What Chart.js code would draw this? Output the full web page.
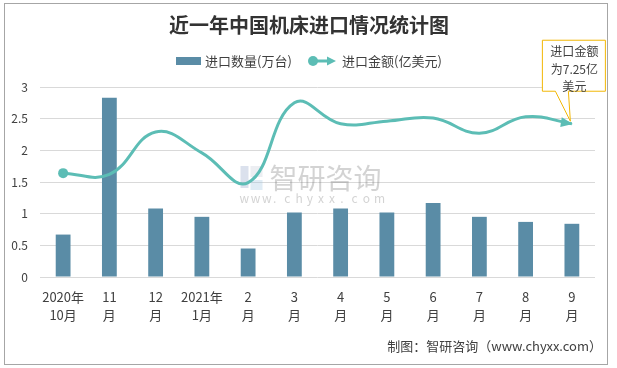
<!DOCTYPE html>
<html>
<head>
<meta charset="utf-8">
<script src="https://cdn.jsdelivr.net/npm/chart.js@4.4.1/dist/chart.umd.min.js"></script>
<style>
  html,body{margin:0;padding:0;background:#fff;}
  #wrap{width:617px;height:368px;position:relative;}
</style>
</head>
<body>
<div id="wrap"><canvas id="c" width="617" height="368"></canvas></div>
<script>
const categories = [["2020年","10月"],["11","月"],["12","月"],["2021年","1月"],["2","月"],["3","月"],["4","月"],["5","月"],["6","月"],["7","月"],["8","月"],["9","月"]];
const importQty = [0.67,2.83,1.08,0.95,0.45,1.02,1.08,1.02,1.17,0.95,0.87,0.84];
const importValue = [1.64,1.62,2.29,1.96,1.49,2.75,2.42,2.46,2.51,2.27,2.53,2.42];
const yTicks = [0,0.5,1,1.5,2,2.5,3];
const titleText = "近一年中国机床进口情况统计图";
const qtyLabel = "进口数量(万台)";
const valueLabel = "进口金额(亿美元)";
const calloutLines = ["进口金额","为7.25亿","美元"];
const sourceText = "制图：智研咨询（www.chyxx.com）";

const FONT = "'Noto Sans CJK SC','Noto Sans',sans-serif";
const BAR_COLOR = "#5A8CA6";
const LINE_COLOR = "#5CBDB5";
const TEXT_COLOR = "#404040";

const decor = {
  id: 'decor',
  beforeDatasetsDraw(chart) {
    const ctx = chart.ctx, a = chart.chartArea;
    const cx = (a.left + a.right) / 2, cy = (a.top + a.bottom) / 2;
    ctx.save();
    ctx.globalAlpha = 0.32;
    ctx.fillStyle = "#8FA3C8";
    ctx.fillRect(cx - 77, cy - 16, 8, 22);
    ctx.fillStyle = "#9FC3E0";
    ctx.fillRect(cx - 67, cy - 2, 12, 10);
    ctx.fillStyle = "#C4CBD8";
    ctx.fillRect(cx - 67, cy - 16, 12, 11);
    ctx.fillStyle = "#777";
    ctx.font = "28px " + FONT;
    ctx.textAlign = "left";
    ctx.textBaseline = "middle";
    ctx.fillText("智研咨询", cx - 48, cy - 4);
    ctx.font = "12px " + FONT;
    const w = "www.chyxx.com".split("");
    w.forEach((ch, i) => ctx.fillText(ch, cx - 78 + i * 11.2, cy + 16));
    ctx.restore();
  },
  afterDatasetsDraw(chart) {
    const ctx = chart.ctx;
    const meta = chart.getDatasetMeta(0);
    const pts = meta.data;
    const last = pts[pts.length - 1];
    const ang = Math.atan2(last.y - last.cp1y, last.x - last.cp1x);
    ctx.save();
    ctx.translate(last.x, last.y);
    ctx.rotate(ang);
    ctx.fillStyle = LINE_COLOR;
    ctx.beginPath();
    ctx.moveTo(1, 0);
    ctx.lineTo(-11, -5);
    ctx.lineTo(-11, 5);
    ctx.closePath();
    ctx.fill();
    ctx.restore();
    const tx = last.x - 2, ty = last.y - 3;
    const L = tx - 28, R = tx + 35, T = ty - 81, B = ty - 30;
    ctx.save();
    ctx.fillStyle = "#fff";
    ctx.strokeStyle = "#F2B705";
    ctx.lineWidth = 1;
    ctx.beginPath();
    ctx.moveTo(L + 0.5, T + 0.5);
    ctx.lineTo(R + 0.5, T + 0.5);
    ctx.lineTo(R + 0.5, B + 0.5);
    ctx.lineTo(tx - 2 + 0.5, B + 0.5);
    ctx.lineTo(tx + 0.5, ty + 0.5);
    ctx.lineTo(tx - 15 + 0.5, B + 0.5);
    ctx.lineTo(L + 0.5, B + 0.5);
    ctx.closePath();
    ctx.fill();
    ctx.stroke();
    ctx.fillStyle = TEXT_COLOR;
    ctx.font = "12px " + FONT;
    ctx.textAlign = "center";
    ctx.textBaseline = "middle";
    const mx = (L + R) / 2 + 1;
    calloutLines.forEach((s, i) => ctx.fillText(s, mx, T + 12 + i * 17.5));
    ctx.restore();
  },
  afterDraw(chart) {
    const ctx = chart.ctx;
    ctx.save();
    ctx.strokeStyle = "#A6A6A6";
    ctx.lineWidth = 1;
    ctx.strokeRect(4.5, 3.5, 603, 361);
    ctx.fillStyle = "#333";
    ctx.font = "bold 20px " + FONT;
    ctx.textAlign = "center";
    ctx.textBaseline = "middle";
    ctx.fillText(titleText, 309, 25);
    ctx.font = "13px " + FONT;
    ctx.textAlign = "left";
    ctx.fillStyle = BAR_COLOR;
    ctx.fillRect(176, 57, 25, 8);
    ctx.fillStyle = TEXT_COLOR;
    ctx.fillText(qtyLabel, 205, 61);
    ctx.strokeStyle = LINE_COLOR;
    ctx.lineWidth = 3;
    ctx.beginPath();
    ctx.moveTo(313, 61);
    ctx.lineTo(329, 61);
    ctx.stroke();
    ctx.fillStyle = LINE_COLOR;
    ctx.beginPath();
    ctx.arc(313, 61, 5, 0, Math.PI * 2);
    ctx.fill();
    ctx.beginPath();
    ctx.moveTo(336, 61);
    ctx.lineTo(327, 56.5);
    ctx.lineTo(327, 65.5);
    ctx.closePath();
    ctx.fill();
    ctx.fillStyle = TEXT_COLOR;
    ctx.fillText(valueLabel, 342, 61);
    ctx.font = "13px " + FONT;
    ctx.textAlign = "right";
    ctx.fillText(sourceText, 602, 346);
    ctx.restore();
  }
};

new Chart(document.getElementById('c'), {
  data: {
    labels: categories,
    datasets: [
      {
        type: 'line',
        label: valueLabel,
        data: importValue,
        borderColor: LINE_COLOR,
        backgroundColor: LINE_COLOR,
        borderWidth: 3,
        tension: 0.42,
        pointRadius: importValue.map((v, i) => i === 0 ? 5 : 0),
        pointHoverRadius: 0,
        pointBorderWidth: 0,
        order: 0
      },
      {
        type: 'bar',
        label: qtyLabel,
        data: importQty,
        backgroundColor: BAR_COLOR,
        categoryPercentage: 1,
        barPercentage: 0.32,
        order: 1
      }
    ]
  },
  options: {
    responsive: false,
    animation: false,
    events: [],
    layout: { padding: { left: 0, right: 22, top: 87, bottom: 0 } },
    plugins: { legend: { display: false }, title: { display: false }, tooltip: { enabled: false } },
    scales: {
      x: {
        grid: { display: false, drawTicks: false },
        border: { display: false },
        ticks: { color: TEXT_COLOR, font: { size: 13, family: FONT, lineHeight: 1.4 }, padding: 11, maxRotation: 0, autoSkip: false },
        afterFit(s) { s.height = 91; }
      },
      y: {
        min: 0, max: 3,
        afterBuildTicks(s) { s.ticks = yTicks.map(v => ({ value: v })); },
        grid: { color: "#D9D9D9", drawTicks: false, lineWidth: 1 },
        border: { display: false },
        ticks: { color: TEXT_COLOR, font: { size: 12, family: FONT }, padding: 12, callback: (v) => String(v) },
        afterFit(s) { s.width = 40; }
      }
    }
  },
  plugins: [decor]
});
</script>
</body>
</html>
